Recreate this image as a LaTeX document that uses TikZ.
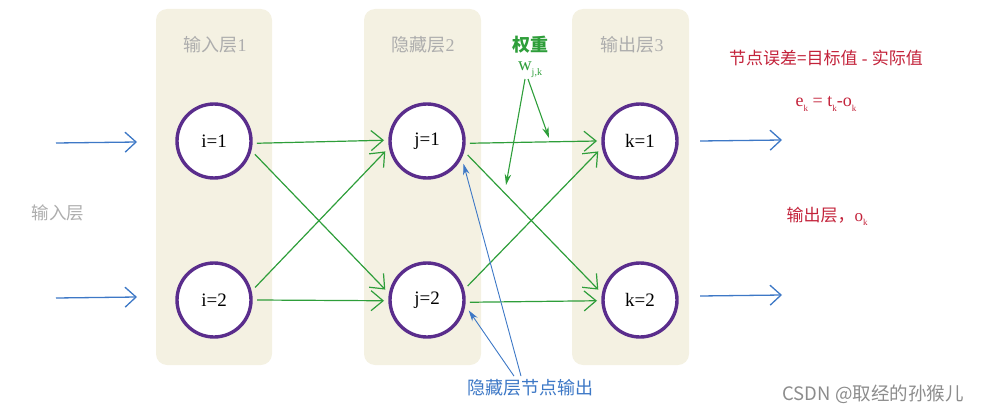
\documentclass[tikz,border=0pt]{standalone}
\usepackage{fontspec}
\setmainfont{Liberation Serif}
\newfontfamily\cjk{Noto Sans CJK SC}
\usetikzlibrary{arrows.meta}
\definecolor{panelfill}{HTML}{F4F1E2}
\definecolor{ringcol}{HTML}{5A2D8C}
\definecolor{titlegray}{HTML}{ADADAD}
\definecolor{wgreen}{HTML}{2E9E3A}
\definecolor{iblue}{HTML}{3D78C6}
\definecolor{ered}{HTML}{C3223A}
\tikzset{
  panel/.style={fill=panelfill, draw=none, rounded corners=11pt},
  neuron/.style={circle, draw=ringcol, line width=3.4pt, fill=white, minimum size=74pt, inner sep=0pt, outer sep=6pt, font=\fontsize{19}{21}\selectfont},
  ptitle/.style={text=titlegray, font=\fontsize{18}{21}\selectfont},
  garrow/.style={draw=wgreen, line width=1.2pt, -{Straight Barb[length=12pt,width=20pt,line width=1.2pt]}},
  barrow/.style={draw=iblue, line width=1.3pt, -{Straight Barb[length=11pt,width=20pt,line width=1.3pt]}},
  bthin/.style={draw=iblue, line width=0.9pt, -{Stealth[length=11pt,width=6.5pt]}},
  gthin/.style={draw=wgreen, line width=1.1pt, -{Stealth[length=11pt,width=6.5pt]}},
  redtext/.style={text=ered, font=\fontsize{17}{20}\selectfont},
}
\begin{document}
\begin{tikzpicture}[x=1pt,y=-1pt]
\useasboundingbox (0,0) rectangle (984,412);
% panels
\path[panel] (156,9) rectangle (272,365);
\path[panel] (364,9) rectangle (481,365);
\path[panel] (572,9) rectangle (689,365);
% panel titles
\node[ptitle] (t1) at (215,45) {{\cjk 输入层}1};
\node[ptitle] (t2) at (423,45) {{\cjk 隐藏层}2};
\node[ptitle] (t3) at (632,45) {{\cjk 输出层}3};
% neurons
\node[neuron] (i1) at (214,141) {i=1};
\node[neuron] (i2) at (214,300) {i=2};
\node[neuron] (j1) at (427,141) {j=1};
\node[neuron] (j2) at (427,300) {j=2};
\node[neuron] (k1) at (640,141) {k=1};
\node[neuron] (k2) at (640,300) {k=2};
% input / output arrows
\coordinate (a1) at (56,143);  \coordinate (b1) at (137,142);
\coordinate (a2) at (56,298);  \coordinate (b2) at (137,297);
\coordinate (c1) at (700,141); \coordinate (d1) at (782,140);
\coordinate (c2) at (700,296); \coordinate (d2) at (782,295);
\draw[barrow] (a1) -- (b1);
\draw[barrow] (a2) -- (b2);
\draw[barrow] (c1) -- (d1);
\draw[barrow] (c2) -- (d2);
% weights
\draw[garrow] (i1.-3) -- (j1.179);
\draw[garrow] (i1.-18) -- (j2.166);
\draw[garrow] (i2.17) -- (j1.-166);
\draw[garrow] (i2.0) -- (j2.181);
\draw[garrow] (j1.-3) -- (k1.180);
\draw[garrow] (j1.-19) -- (k2.166);
\draw[garrow] (j2.19) -- (k1.-166);
\draw[garrow] (j2.-3) -- (k2.181);
% weight label
\node[text=wgreen, font=\fontsize{18}{21}\selectfont\bfseries] (wt) at (530,45) {\cjk 权重};
\node[text=wgreen, font=\fontsize{19}{21}\selectfont, inner sep=1pt] (w) at (530,70) {w\raisebox{-0.55ex}{\fontsize{10}{11}\selectfont j,k}};
\coordinate (w1) at (506,185);
\coordinate (w2) at (549,138);
\draw[gthin] ([xshift=-5pt]w.south) -- (w1);
\draw[gthin] ([xshift=-2pt]w.south) -- (w2);
% hidden output label
\node[text=iblue, font=\fontsize{18}{21}\selectfont] (h) at (530,388) {\cjk 隐藏层节点输出};
\draw[bthin] ([xshift=-16pt]h.north) -- (j2.-14);
\draw[bthin] ([xshift=-9pt]h.north) -- (j1.-32);
% left label
\node[text=titlegray, font=\fontsize{17.5}{20}\selectfont] (inl) at (58,213) {\cjk 输入层};
% red texts
\node[redtext] (err) at (826,58) {{\cjk 节点误差=目标值}\ -\ {\cjk 实际值}};
\node[text=ered, font=\fontsize{18}{20}\selectfont] (eq) at (826,104) {e\raisebox{-0.55ex}{\fontsize{9}{10}\selectfont k} = t\raisebox{-0.55ex}{\fontsize{9}{10}\selectfont k}-o\raisebox{-0.55ex}{\fontsize{9}{10}\selectfont k}};
\node[redtext] (ok) at (827,216) {{\cjk 输出层，}o\raisebox{-0.55ex}{\fontsize{9}{10}\selectfont k}};
% watermark
\node[text=black!45, font=\cjk\fontsize{18.5}{21}\selectfont] (wm) at (873,394) {CSDN @取经的孙猴儿};
\end{tikzpicture}
\end{document}
